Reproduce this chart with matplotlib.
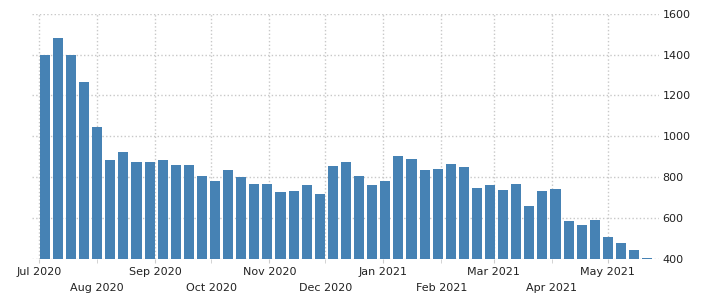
import pandas as pd
import matplotlib
matplotlib.use("Agg")
import matplotlib.pyplot as plt
import matplotlib.dates as mdates

# weekly values, week ending Saturday
start_week = "2020-07-04"
values = [1400, 1480, 1400, 1265, 1045, 884, 923, 874, 874, 884,
          860, 860, 806, 782, 835, 801, 767, 767, 727, 732,
          762, 718, 855, 874, 806, 762, 782, 904, 889, 835,
          840, 865, 850, 747, 762, 737, 767, 659, 732, 742,
          586, 566, 591, 507, 478, 443, 404]
dates = pd.date_range(start_week, periods=len(values), freq="7D")

y_ticks = [400, 600, 800, 1000, 1200, 1400, 1600]
top_row = pd.to_datetime(["2020-07-01", "2020-09-01", "2020-11-01",
                          "2021-01-01", "2021-03-01", "2021-05-01"])
bottom_row = pd.to_datetime(["2020-08-01", "2020-10-01", "2020-12-01",
                             "2021-02-01", "2021-04-01"])

fig = plt.figure(figsize=(7.24, 3.02), dpi=100)
ax = fig.add_axes([0.0442, 0.1424, 0.8660, 0.8122])

ax.bar(dates, values, width=5.4, color="#4682b4", zorder=2)

ax.set_xlim(pd.Timestamp("2020-06-27 03:00"), pd.Timestamp("2021-05-28 08:00"))
ax.set_ylim(400, 1600)

ax.yaxis.tick_right()
ax.set_yticks(y_ticks)
ax.tick_params(axis="y", length=0, pad=2.5, labelsize=8, labelcolor="#222222")

ax.set_xticks(top_row)
ax.set_xticklabels([d.strftime("%b %Y") for d in top_row])
ax.set_xticks(bottom_row, minor=True)
ax.set_xticklabels([d.strftime("%b %Y") for d in bottom_row], minor=True)
ax.tick_params(axis="x", which="major", length=3, color="#cccccc", pad=3,
               labelsize=8, labelcolor="#222222")
ax.tick_params(axis="x", which="minor", length=3, color="#cccccc", pad=14,
               labelsize=8, labelcolor="#222222")

ax.grid(True, which="both", linestyle=":", color="#c8c8c8", linewidth=1, zorder=0)
ax.set_axisbelow(True)
for s in ax.spines.values():
    s.set_visible(False)

fig.savefig("out.png", dpi=100)
